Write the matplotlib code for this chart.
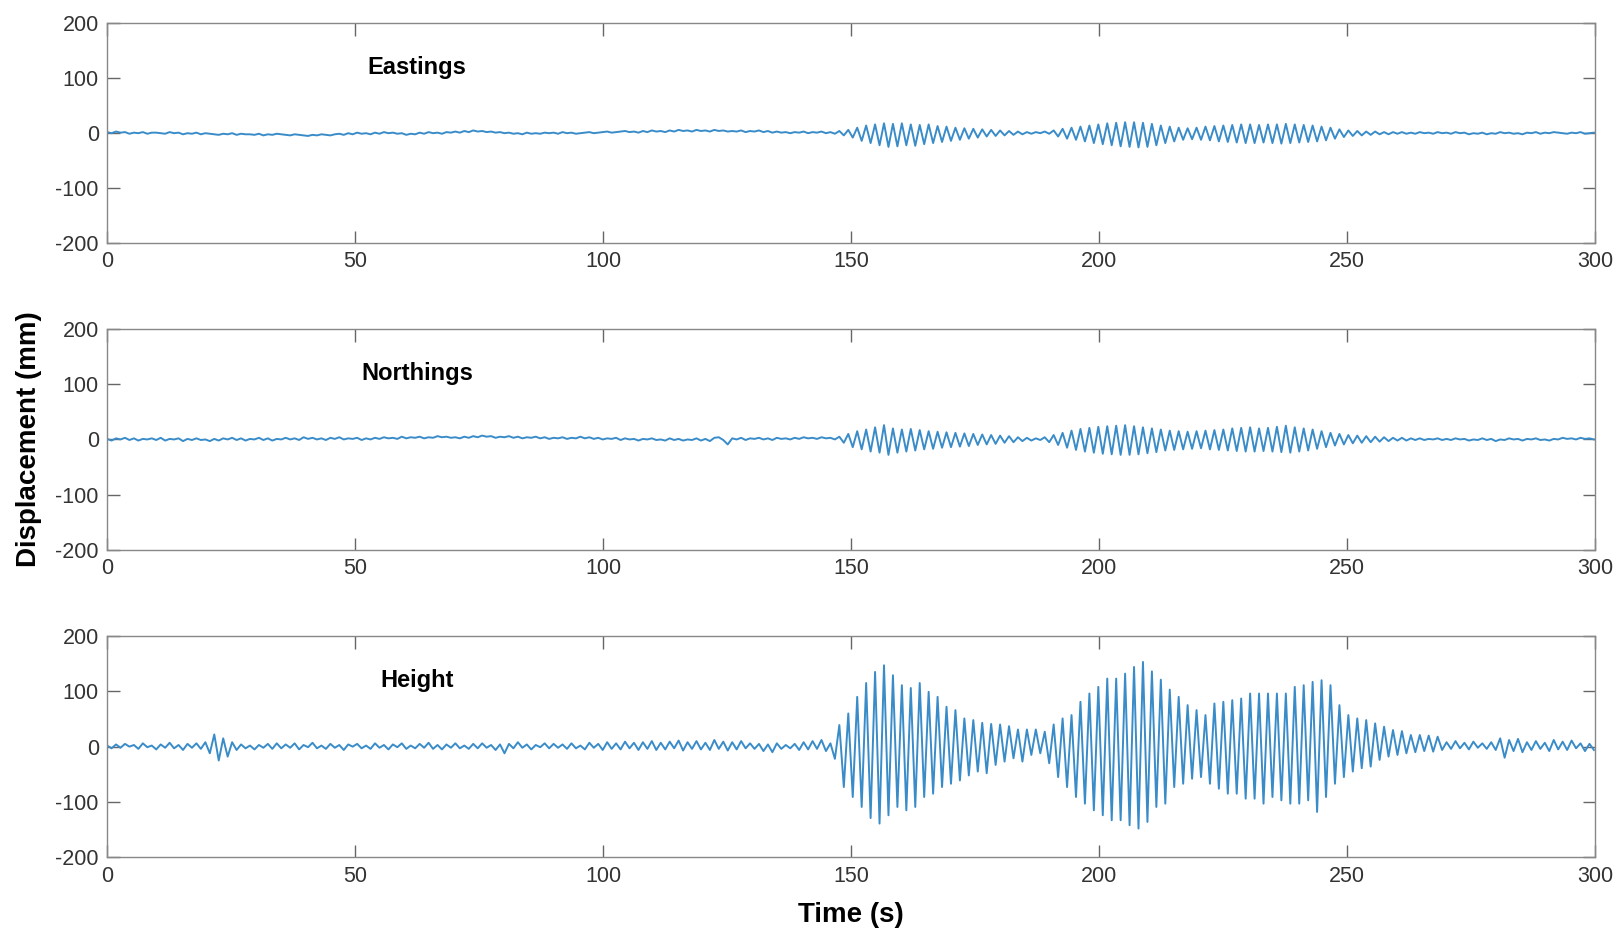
import numpy as np
import matplotlib
matplotlib.use("Agg")
import matplotlib.pyplot as plt

plt.rcParams["font.family"] = ["Liberation Sans", "DejaVu Sans"]
plt.rcParams["axes.unicode_minus"] = False

# samples every half cycle (0.9 s), 0 .. 299.7 s
STEP = 0.9
N_SAMPLES = 334
XTICKS = [0, 50, 100, 150, 200, 250, 300]
YTICKS = [-200, -100, 0, 100, 200]
PANELS = ["Eastings", "Northings", "Height"]

# ---- Eastings (mm) ----
east_pre = [2, 0, 3, 1, 2, -1, 1, 0, 2, -1, 1, 1, 0, -1, 2, 0, 1, -2, 0, -1,
            1, -2, 0, -1, -2, -3, -1, -2, 0, -3, -1, -2, -2, -3, -1, -4, -2, -3, -1, -2,
            -3, -4, -2, -3, -4, -5, -3, -4, -2, -3, -4, -2, -1, -3, 0, -2, 1, -1, 0, -2,
            1, -1, 2, 0, 1, -1, 0, -3, -1, -2, 1, -1, 2, 0, 1, -1, 2, 1, 3, 1,
            4, 2, 5, 3, 4, 2, 3, 1, 2, 0, 1, -1, 0, -2, 1, -1, 0, -1, 1, 0,
            1, -1, 2, 0, 1, -1, 0, 1, 2, 0, 1, 2, 3, 1, 2, 3, 4, 2, 3, 1,
            4, 2, 5, 3, 4, 2, 5, 3, 6, 4, 5, 3, 6, 4, 5, 3, 6, 4, 5, 3,
            4, 3, 5, 2, 4, 3, 5, 2, 4, 1, 3, 1, 2, 0, 2, 1, 3, 0, 2, 1,
            3, 0, 2, -1]
east_burst = [4, -4, 6, -8, 10, -14, 14, -18, 16, -22, 18, -25, 17, -24, 18, -22,
              16, -23, 15, -20, 16, -18, 13, -16, 12, -14, 10, -12, 9, -10, 8, -8,
              7, -6, 6, -5, 5, -4, 4, -3, 3, -2, 2, -1, 2, 0, 3, -1,
              5, -6, 8, -10, 10, -12, 12, -15, 14, -18, 16, -20, 18, -22, 19, -24,
              20, -25, 20, -26, 19, -25, 17, -22, 14, -18, 12, -15, 10, -12, 9, -11,
              10, -12, 12, -13, 13, -15, 14, -16, 15, -17, 16, -18, 16, -18, 15, -17,
              16, -18, 16, -19, 17, -18, 16, -17, 15, -16, 14, -15, 12, -13, 10, -10,
              7, -7, 5, -5, 4, -4, 3, -3, 3, -2, 2, -2, 2, -1, 2, -1,
              1, -1, 2, 0, 1, -1, 2, 0]
east_post = [1, -1, 2, 0, 1, -2, 0, -1, 1, -2, 0, -1, 2, 0, 1, -1, 0, -2, 1, 0,
             2, -1, 1, 0, 2, 1, 0, -1, 1, 0, 2, -1, 0, 1]

# ---- Northings (mm) ----
north_pre = [1, -2, 2, 0, 3, -1, 2, -2, 1, 0, 2, -1, 3, -2, 1, 0, 2, -3, 1, -1,
             2, -1, 0, -3, 1, -2, 2, 0, 3, -1, 2, -2, 1, 0, 3, -1, 2, -2, 1, 0,
             3, 0, 2, -1, 4, 1, 3, 0, 2, -1, 3, 1, 4, 0, 2, 1, 3, -1, 2, 0,
             3, 1, 4, 2, 3, 1, 5, 2, 4, 3, 5, 2, 4, 3, 6, 4, 5, 3, 4, 2,
             5, 3, 6, 4, 7, 5, 6, 3, 5, 4, 6, 3, 5, 2, 4, 3, 5, 2, 4, 1,
             3, 2, 4, 1, 3, 2, 5, 2, 4, 1, 3, 0, 2, 1, 3, -1, 2, 0, 1, -2,
             1, 0, 2, -1, 0, -2, 2, -1, 1, -2, 0, -1, 2, -2, 1, -3, 3, 4, -1, -9,
             2, 0, 3, -1, 2, 1, 3, 0, 2, -1, 3, 1, 2, 0, 3, 1, 4, 2, 3, 1,
             4, 2, 3, 0]
north_burst = [5, -6, 10, -14, 15, -18, 18, -22, 22, -24, 26, -28, 20, -24, 18, -22,
               19, -20, 17, -18, 15, -17, 14, -15, 13, -14, 12, -13, 11, -12, 10, -10,
               9, -9, 8, -8, 7, -6, 6, -5, 4, -3, 3, -2, 2, -1, 4, -5,
               8, -10, 12, -15, 16, -19, 19, -22, 21, -24, 23, -26, 24, -27, 25, -28,
               26, -28, 24, -27, 22, -25, 20, -23, 18, -20, 16, -19, 15, -18, 14, -17,
               15, -16, 16, -18, 17, -19, 18, -20, 20, -21, 21, -22, 22, -22, 20, -21,
               21, -22, 23, -23, 25, -24, 22, -22, 20, -20, 18, -17, 15, -14, 12, -11,
               10, -9, 8, -7, 7, -6, 6, -5, 5, -4, 4, -3, 3, -2, 3, -2,
               2, -1, 2, -1, 1, 0, 2, -1]
north_post = [1, -1, 2, 0, 1, -2, 0, -1, 2, -1, 1, -3, 0, -1, 2, 0, 1, -2, 1, 0,
              2, -1, 0, -2, 1, 0, 3, 1, 2, 0, 3, 1, 2, 0]

# ---- Height (mm) ----
height_pre = [2, -3, 4, -2, 5, 0, 3, -4, 6, -1, 2, -5, 4, -2, 7, -3, 3, -6, 5, -2,
              6, -4, 8, -12, 22, -25, 15, -18, 8, -6, 4, -3, 2, -5, 3, -2, 5, -4, 6, -3,
              4, -2, 6, -5, 3, -1, 7, -3, 2, -4, 5, -2, 3, -6, 4, 0, 5, -3, 2, -4,
              6, -2, 3, -5, 4, -1, 6, -4, 2, -3, 5, -2, 7, -4, 3, -5, 4, -2, 6, -3,
              2, -4, 5, -3, 6, -2, 3, -6, 4, -12, 5, -3, 8, -2, 4, -5, 3, -1, 6, -3,
              5, -2, 4, -4, 6, -3, 2, -5, 7, -2, 5, -6, 8, -4, 6, -5, 9, -3, 7, -6,
              8, -4, 10, -6, 7, -5, 9, -3, 11, -7, 8, -4, 10, -5, 7, -6, 12, -4, 9, -7,
              8, -5, 10, -3, 6, -4, 5, -8, 4, -10, 6, -4, 3, -3, 5, -6, 8, -5, 10, -4,
              12, -8, 6, -22]
height_burst = [39, -73, 60, -91, 90, -109, 115, -129, 135, -139, 147, -124, 129, -109, 111, -115,
                106, -109, 115, -91, 99, -85, 90, -73, 72, -67, 66, -61, 51, -52, 48, -45,
                43, -48, 41, -33, 40, -27, 37, -21, 31, -27, 31, -15, 31, -12, 27, -30,
                40, -55, 51, -73, 57, -91, 81, -103, 96, -115, 108, -124, 123, -133, 123, -133,
                132, -142, 144, -148, 153, -136, 136, -109, 121, -103, 103, -73, 90, -67, 75, -58,
                66, -55, 57, -67, 78, -76, 81, -85, 84, -85, 87, -94, 96, -94, 96, -103,
                96, -91, 96, -97, 96, -103, 108, -103, 111, -97, 117, -118, 120, -91, 111, -67,
                75, -55, 57, -45, 51, -39, 48, -36, 42, -24, 36, -18, 30, -15, 28, -12,
                21, -10, 21, -8, 20, -9, 18, -6]
height_post = [8, -4, 10, -3, 7, -5, 9, -2, 6, -4, 8, -6, 15, -20, 12, -8, 14, -10, 8, -6,
               10, -4, 7, -8, 12, -5, 9, -6, 11, -3, 6, -8, 5, -6]

east = east_pre + east_burst + east_post
north = north_pre + north_burst + north_post
height = height_pre + height_burst + height_post
t = np.arange(N_SAMPLES) * STEP

fig = plt.figure(figsize=(16.23, 9.38), dpi=100)
boxes = [(0.066, 0.741, 0.917, 0.234), (0.066, 0.414, 0.917, 0.235), (0.066, 0.086, 0.917, 0.236)]
for box, name, y in zip(boxes, PANELS, [east, north, height]):
    ax = fig.add_axes(box)
    ax.plot(t, y, color="#3a8cc9", lw=1.4)
    ax.set_xlim(0, 300); ax.set_ylim(-200, 200)
    ax.set_xticks(XTICKS); ax.set_yticks(YTICKS)
    ax.tick_params(direction="in", length=9, width=1, top=True, right=True,
                   labelsize=15.5, colors="#666666", labelcolor="#333333", pad=6)
    for s in ax.spines.values():
        s.set_color("#888888"); s.set_linewidth(1)
    ax.text(62.5, 120, name, ha="center", va="center", fontsize=17, fontweight="bold")

fig.text(0.524, 0.024, "Time (s)", ha="center", va="center", fontsize=20, fontweight="bold")
fig.text(0.018, 0.532, "Displacement (mm)", ha="center", va="center", rotation=90,
         fontsize=20, fontweight="bold")
fig.savefig("out.png", dpi=100)
